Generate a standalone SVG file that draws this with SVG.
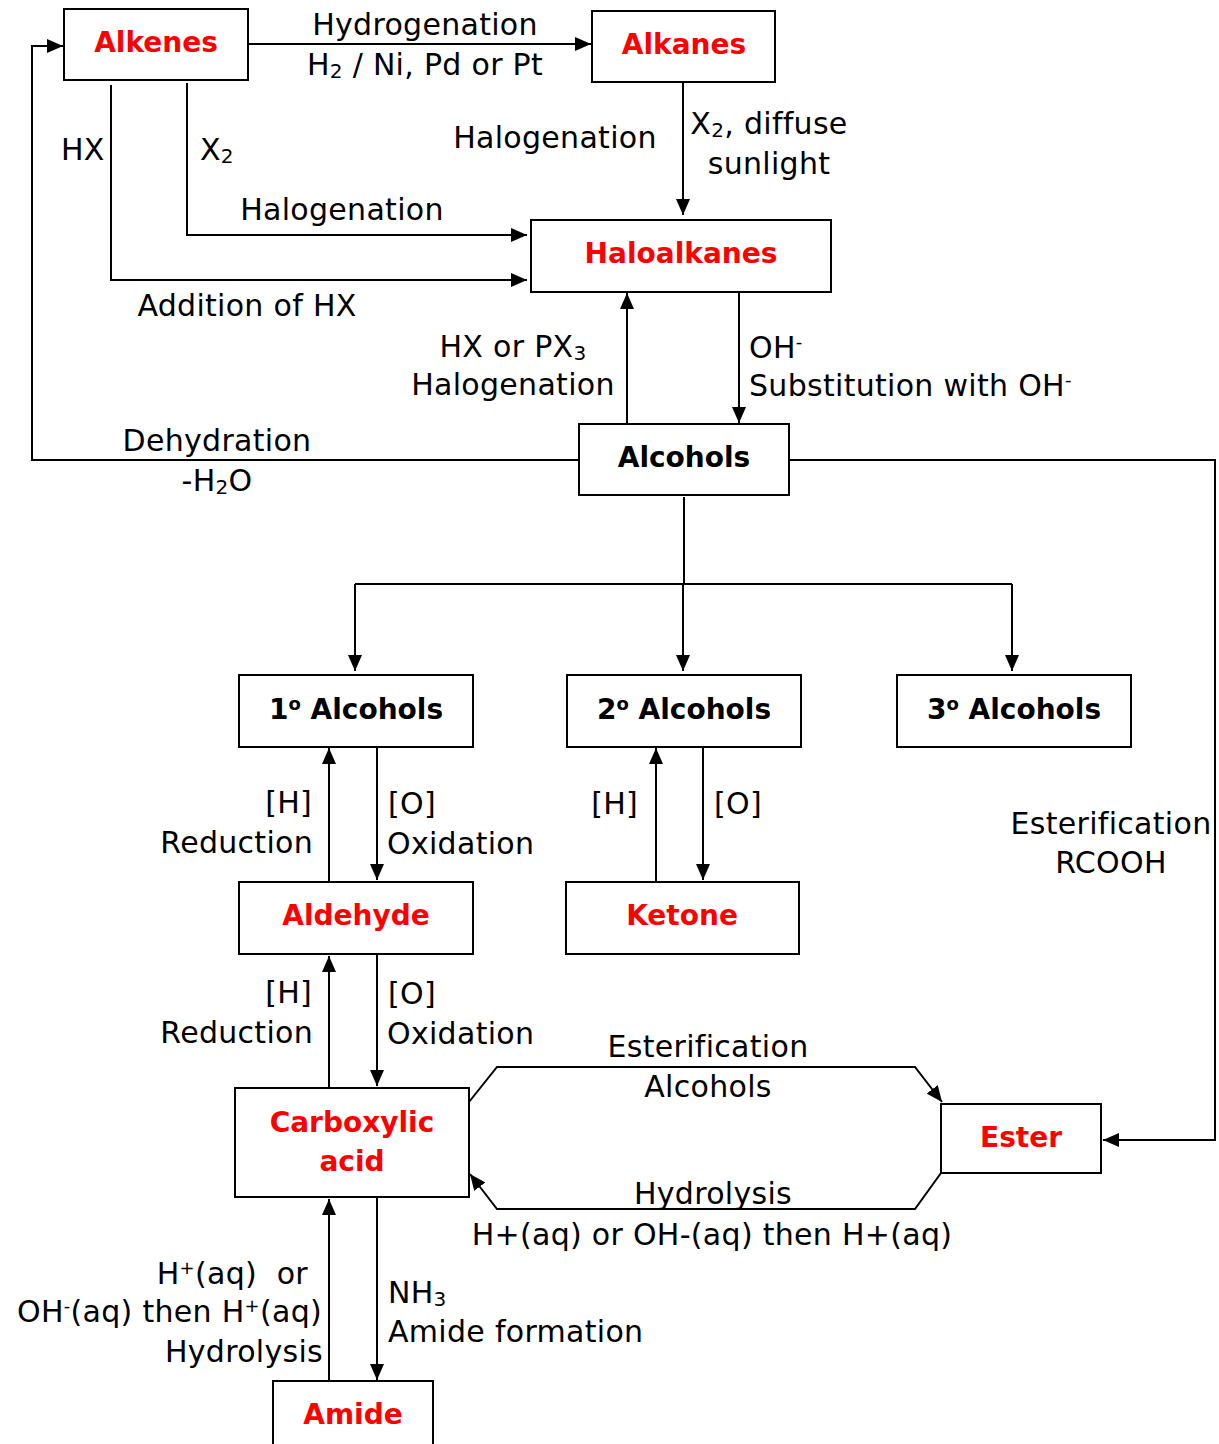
<svg xmlns="http://www.w3.org/2000/svg" width="1219" height="1444" viewBox="0 0 1219 1444">
<style>
.box{fill:#fff;stroke:#000;stroke-width:2}
.red{font-family:"DejaVu Sans",sans-serif;font-weight:bold;font-size:28px;fill:#ff0000;text-anchor:middle}
.blk{font-family:"DejaVu Sans",sans-serif;font-weight:bold;font-size:28px;fill:#000;text-anchor:middle}
.lbl{font-family:"DejaVu Sans",sans-serif;font-size:30px;letter-spacing:0.3px;fill:#000}
.mid{text-anchor:middle}
.end{text-anchor:end}
.c{fill:none;stroke:#000;stroke-width:2}
.a{marker-end:url(#ah)}
</style>
<defs>
<marker id="ah" markerUnits="userSpaceOnUse" markerWidth="16" markerHeight="14" refX="16" refY="7" orient="auto">
<path d="M0,0 L16,7 L0,14 z" fill="#000"/>
</marker>
</defs>
<rect width="1219" height="1444" fill="#fff"/>
<g id="connectors">
<path class="c a" d="M248,44 H591"/>
<path class="c a" d="M187,83 V235 H527"/>
<path class="c a" d="M111,85 V280 H527"/>
<path class="c a" d="M683,83 V215"/>
<path class="c a" d="M627,424 V293"/>
<path class="c a" d="M739,292 V423"/>
<path class="c a" d="M579,460 H32 V46 H63"/>
<path class="c a" d="M789,460 H1215 V1140 H1103"/>
<path class="c" d="M684,497 V584"/>
<path class="c" d="M355,584 H1012"/>
<path class="c a" d="M355,584 V671"/>
<path class="c a" d="M683,584 V671"/>
<path class="c a" d="M1012,584 V671"/>
<path class="c a" d="M329,882 V748"/>
<path class="c a" d="M377,747 V880"/>
<path class="c a" d="M656,882 V748"/>
<path class="c a" d="M703,747 V880"/>
<path class="c a" d="M329,1088 V956"/>
<path class="c a" d="M377,954 V1086"/>
<path class="c a" d="M329,1381 V1199"/>
<path class="c a" d="M377,1198 V1380"/>
<path class="c a" d="M469,1102 L497,1067 H915 L942,1102"/>
<path class="c a" d="M941,1173 L915,1209 H497 L470,1174"/>
</g>
<g id="labels">
<text class="lbl mid" x="425" y="35">Hydrogenation</text>
<text class="lbl mid" x="425" y="75">H<tspan font-size="20" dy="3">2</tspan><tspan dy="-3"> / Ni, Pd or Pt</tspan></text>
<text class="lbl" x="61" y="160">HX</text>
<text class="lbl" x="200" y="160">X<tspan font-size="20" dy="3">2</tspan></text>
<text class="lbl mid" x="555" y="148">Halogenation</text>
<text class="lbl mid" x="769" y="134">X<tspan font-size="20" dy="3">2</tspan><tspan dy="-3">, diffuse</tspan></text>
<text class="lbl mid" x="769" y="174">sunlight</text>
<text class="lbl mid" x="342" y="220">Halogenation</text>
<text class="lbl mid" x="247" y="316">Addition of HX</text>
<text class="lbl mid" x="513" y="357">HX or PX<tspan font-size="20" dy="3">3</tspan></text>
<text class="lbl mid" x="513" y="395">Halogenation</text>
<text class="lbl" x="749" y="358">OH<tspan font-size="18" dy="-10">-</tspan></text>
<text class="lbl" x="749" y="396">Substitution with OH<tspan font-size="18" dy="-10">-</tspan></text>
<text class="lbl mid" x="217" y="451">Dehydration</text>
<text class="lbl mid" x="217" y="491">-H<tspan font-size="20" dy="3">2</tspan><tspan dy="-3">O</tspan></text>
<text class="lbl mid" x="1111" y="834">Esterification</text>
<text class="lbl mid" x="1111" y="873">RCOOH</text>
<text class="lbl end" x="312" y="813">[H]</text>
<text class="lbl end" x="313" y="853">Reduction</text>
<text class="lbl" x="388" y="814">[O]</text>
<text class="lbl" x="387" y="854">Oxidation</text>
<text class="lbl end" x="638" y="814">[H]</text>
<text class="lbl" x="714" y="814">[O]</text>
<text class="lbl end" x="312" y="1003">[H]</text>
<text class="lbl end" x="313" y="1043">Reduction</text>
<text class="lbl" x="388" y="1004">[O]</text>
<text class="lbl" x="387" y="1044">Oxidation</text>
<text class="lbl mid" x="708" y="1057">Esterification</text>
<text class="lbl mid" x="708" y="1097">Alcohols</text>
<text class="lbl mid" x="713" y="1204">Hydrolysis</text>
<text class="lbl mid" x="712" y="1245">H+(aq) or OH-(aq) then H+(aq)</text>
<text class="lbl end" x="308" y="1284">H<tspan font-size="18" dy="-10">+</tspan><tspan dy="10">(aq) &#160;or</tspan></text>
<text class="lbl end" x="322" y="1322">OH<tspan font-size="18" dy="-10">-</tspan><tspan dy="10">(aq) then H</tspan><tspan font-size="18" dy="-10">+</tspan><tspan dy="10">(aq)</tspan></text>
<text class="lbl end" x="323" y="1362">Hydrolysis</text>
<text class="lbl" x="388" y="1303">NH<tspan font-size="20" dy="3">3</tspan></text>
<text class="lbl" x="388" y="1342">Amide formation</text>
</g>
<g id="alkenes"><rect class="box" x="64" y="9" width="184" height="71"/><text class="red" x="156" y="52">Alkenes</text></g>
<g id="alkanes"><rect class="box" x="592" y="11" width="183" height="71"/><text class="red" x="684" y="54">Alkanes</text></g>
<g id="haloalkanes"><rect class="box" x="531" y="220" width="300" height="72"/><text class="red" x="681" y="263">Haloalkanes</text></g>
<g id="alcohols"><rect class="box" x="579" y="424" width="210" height="71"/><text class="blk" x="684" y="467">Alcohols</text></g>
<g id="alcohols1"><rect class="box" x="239" y="675" width="234" height="72"/><text class="blk" x="356" y="719">1<tspan font-size="18" dy="-9">o</tspan><tspan dy="9"> Alcohols</tspan></text></g>
<g id="alcohols2"><rect class="box" x="567" y="675" width="234" height="72"/><text class="blk" x="684" y="719">2<tspan font-size="18" dy="-9">o</tspan><tspan dy="9"> Alcohols</tspan></text></g>
<g id="alcohols3"><rect class="box" x="897" y="675" width="234" height="72"/><text class="blk" x="1014" y="719">3<tspan font-size="18" dy="-9">o</tspan><tspan dy="9"> Alcohols</tspan></text></g>
<g id="aldehyde"><rect class="box" x="239" y="882" width="234" height="72"/><text class="red" x="356" y="925">Aldehyde</text></g>
<g id="ketone"><rect class="box" x="566" y="882" width="233" height="72"/><text class="red" x="682" y="925">Ketone</text></g>
<g id="carboxylic"><rect class="box" x="235" y="1088" width="234" height="109"/><text class="red" x="352" y="1132">Carboxylic</text><text class="red" x="352" y="1171">acid</text></g>
<g id="ester"><rect class="box" x="941" y="1104" width="160" height="69"/><text class="red" x="1021" y="1147">Ester</text></g>
<g id="amide"><rect class="box" x="273" y="1381" width="160" height="80"/><text class="red" x="353" y="1424">Amide</text></g>
</svg>
